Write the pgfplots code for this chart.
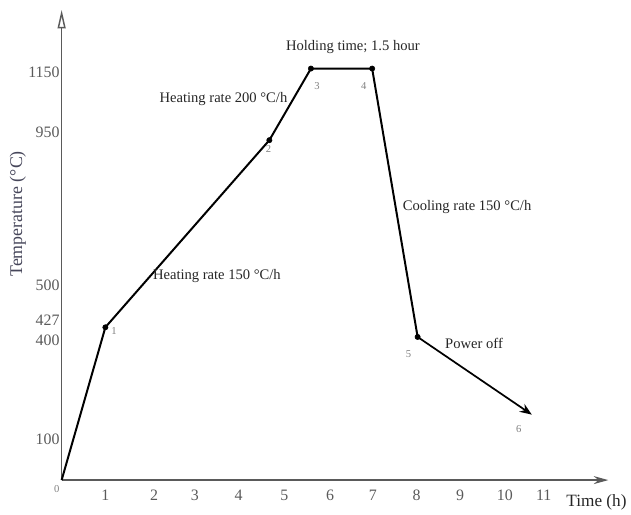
\documentclass[border=0pt]{standalone}
\usepackage{pgfplots}
\pgfplotsset{compat=1.18}
\usepackage{fontspec}
\setmainfont{Liberation Serif}
\usetikzlibrary{arrows.meta}
\definecolor{axgray}{RGB}{90,90,90}
\definecolor{lblcol}{RGB}{70,70,90}
\newcommand{\ys}[2]{\raisebox{#1}[0.7em][0pt]{#2}}
\newcommand{\xs}[2]{\hspace*{#1}#2}
\begin{document}
\begin{tikzpicture}
\path (-46.5pt,-24.75pt) rectangle (426.75pt,362.25pt);
\begin{axis}[
  x=33pt, y=0.27pt,
  xmin=0, xmax=12.5, ymin=0, ymax=1314,
  axis lines=left,
  axis line style={draw=axgray, line width=1.1pt},
  x axis line style={-{Stealth[length=11pt,width=6pt]}},
  y axis line style={-{Triangle[open,length=14pt,width=6pt]}},
  xtick={1,2,3,4,5,6,7,8,9,10,11},
  xticklabels={1,\xs{7.5pt}{2},\xs{3pt}{3},\xs{3pt}{4},\xs{6pt}{5},\xs{9pt}{6},\xs{7.5pt}{7},\xs{7.5pt}{8},\xs{7.5pt}{9},\xs{9pt}{10},\xs{1.5pt}{11}},
  ytick={100,400,427,500,950,1150},
  yticklabels={\ys{3.75pt}{100},\ys{-2.25pt}{400},\ys{5.25pt}{427},\ys{12pt}{500},\ys{6pt}{950},\ys{-2.25pt}{1150}},
  major tick length=0pt,
  tick label style={font=\fontsize{12}{14}\selectfont, text=axgray},
  xticklabel style={yshift=-4pt},
  yticklabel style={xshift=2pt},
  clip=false,
]
\addplot[black, line width=1.5pt, line join=round] coordinates {(0,0) (1,427) (4.75,950) (5.7,1150) (7.1,1150) (8.14,400)};
\addplot[black, line width=1.3pt, -{Stealth[length=9pt,width=7pt]}] coordinates {(8.14,400) (10.75,183)};
\addplot[only marks, mark=*, mark size=2pt, black] coordinates {(1,427) (4.75,950) (5.7,1150) (7.1,1150) (8.14,400)};
\begin{scope}[font=\fontsize{11}{13}\selectfont, text=black!85]
\node at (axis cs:6.66,1211) {Holding time; 1.5 hour};
\node at (axis cs:3.70,1064) {Heating rate 200 °C/h};
\node at (axis cs:3.55,569) {Heating rate 150 °C/h};
\node at (axis cs:9.27,764) {Cooling rate 150 °C/h};
\node at (axis cs:9.43,383) {Power off};
\end{scope}
\begin{scope}[font=\fontsize{8}{9}\selectfont, text=gray]
\node at (axis cs:1.2,417) {1};
\node at (axis cs:4.73,925) {2};
\node at (axis cs:5.84,1100) {3};
\node at (axis cs:6.91,1100) {4};
\node at (axis cs:7.93,353) {5};
\node at (axis cs:10.45,142) {6};
\node at (axis cs:-0.11,-25) {0};
\end{scope}
\node[font=\fontsize{13}{15}\selectfont, text=black!85] at (axis cs:12.23,-63) {Time (h)};
\node[font=\fontsize{13.5}{15}\selectfont, text=lblcol, rotate=90] at (axis cs:-1.0,744) {Temperature (°C)};
\end{axis}
\end{tikzpicture}
\end{document}
